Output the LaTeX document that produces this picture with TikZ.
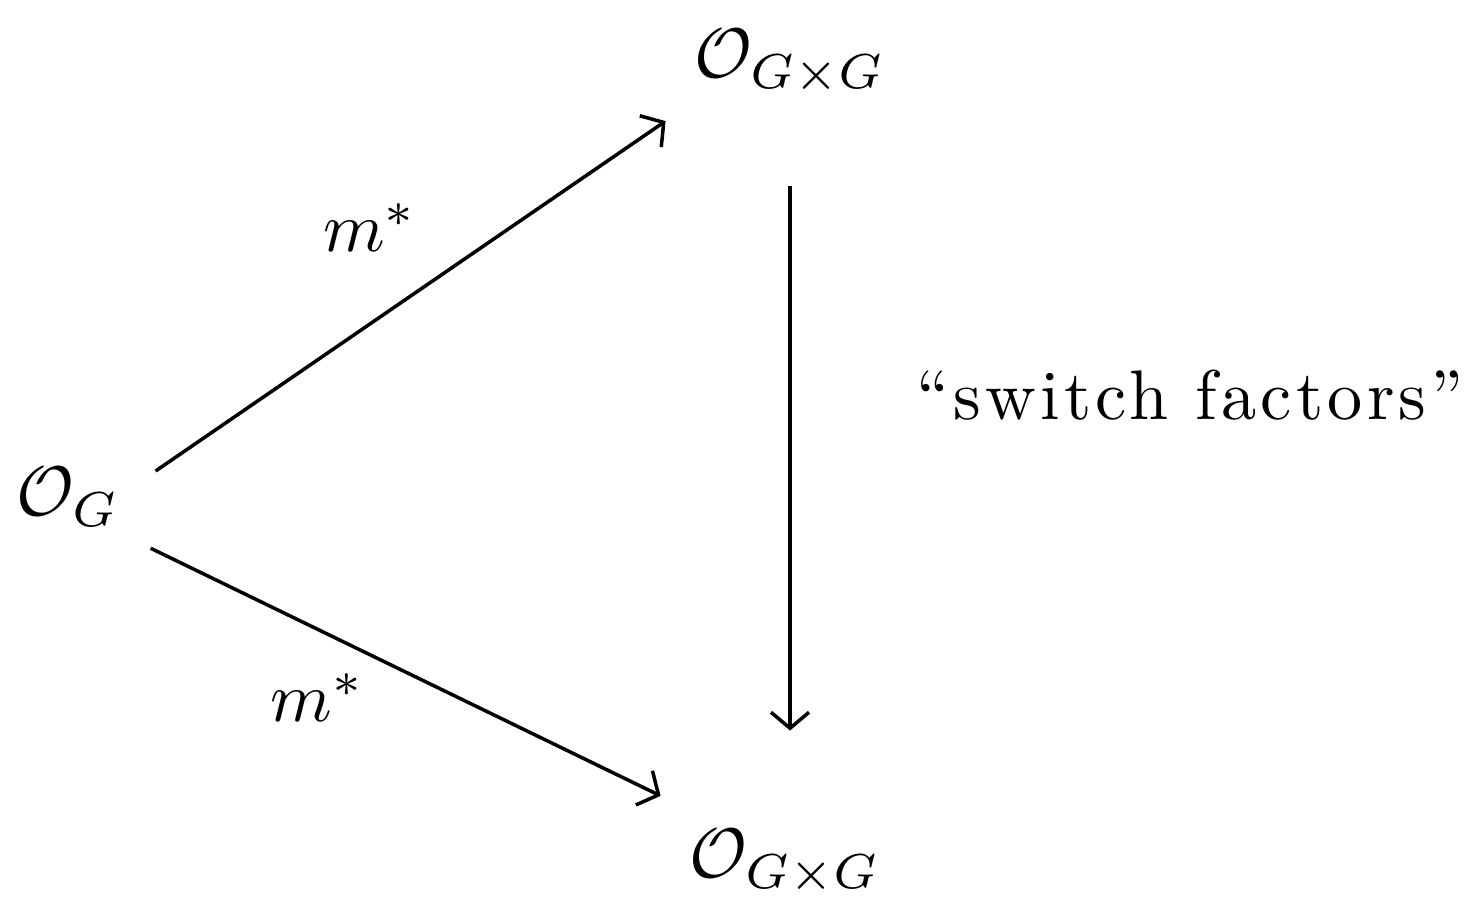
\documentclass[tikz,border=0pt]{standalone}
\usepackage{amsmath}
\usepackage{fontspec}
\newfontfamily\spacedrm{Latin Modern Roman}[Ligatures=TeX,LetterSpace=6]
\usepackage{tikz}
\usetikzlibrary{arrows.meta,positioning}

\begin{document}
\begin{tikzpicture}[x=0.005cm,y=-0.005cm,
   >={Straight Barb[length=0.8mm,width=1.9mm]},
   every node/.style={font=\normalsize},
   map/.style={->,line width=0.5pt}]
  \useasboundingbox (0,0) rectangle (1477,898);
  \node (OG) at (68,497) {$\mathcal{O}_G$};
  \node (top) at (790,62) {$\mathcal{O}_{G\times G}$};
  \node (bot) at (785,862) {$\mathcal{O}_{G\times G}$};
  \node (sw) at (1190,395) {\spacedrm ``switch factors''};
  \draw[map] ([xshift=1.6pt,yshift=-4pt]OG.north east) -- node[above left=2.7pt and -4.5pt]{$m^*$} ([xshift=-0.6pt,yshift=-0.3pt]top.south west);
  \draw[map] ([xshift=0.9pt,yshift=0.4pt]OG.south east) -- node[below left=-3.4pt and 2.3pt]{$m^*$} ([xshift=-0.6pt,yshift=1.3pt]bot.north west);
  \draw[map] ([yshift=-9.6pt]top.south) -- ([yshift=10.6pt]top.south |- bot.north);
\end{tikzpicture}
\end{document}
